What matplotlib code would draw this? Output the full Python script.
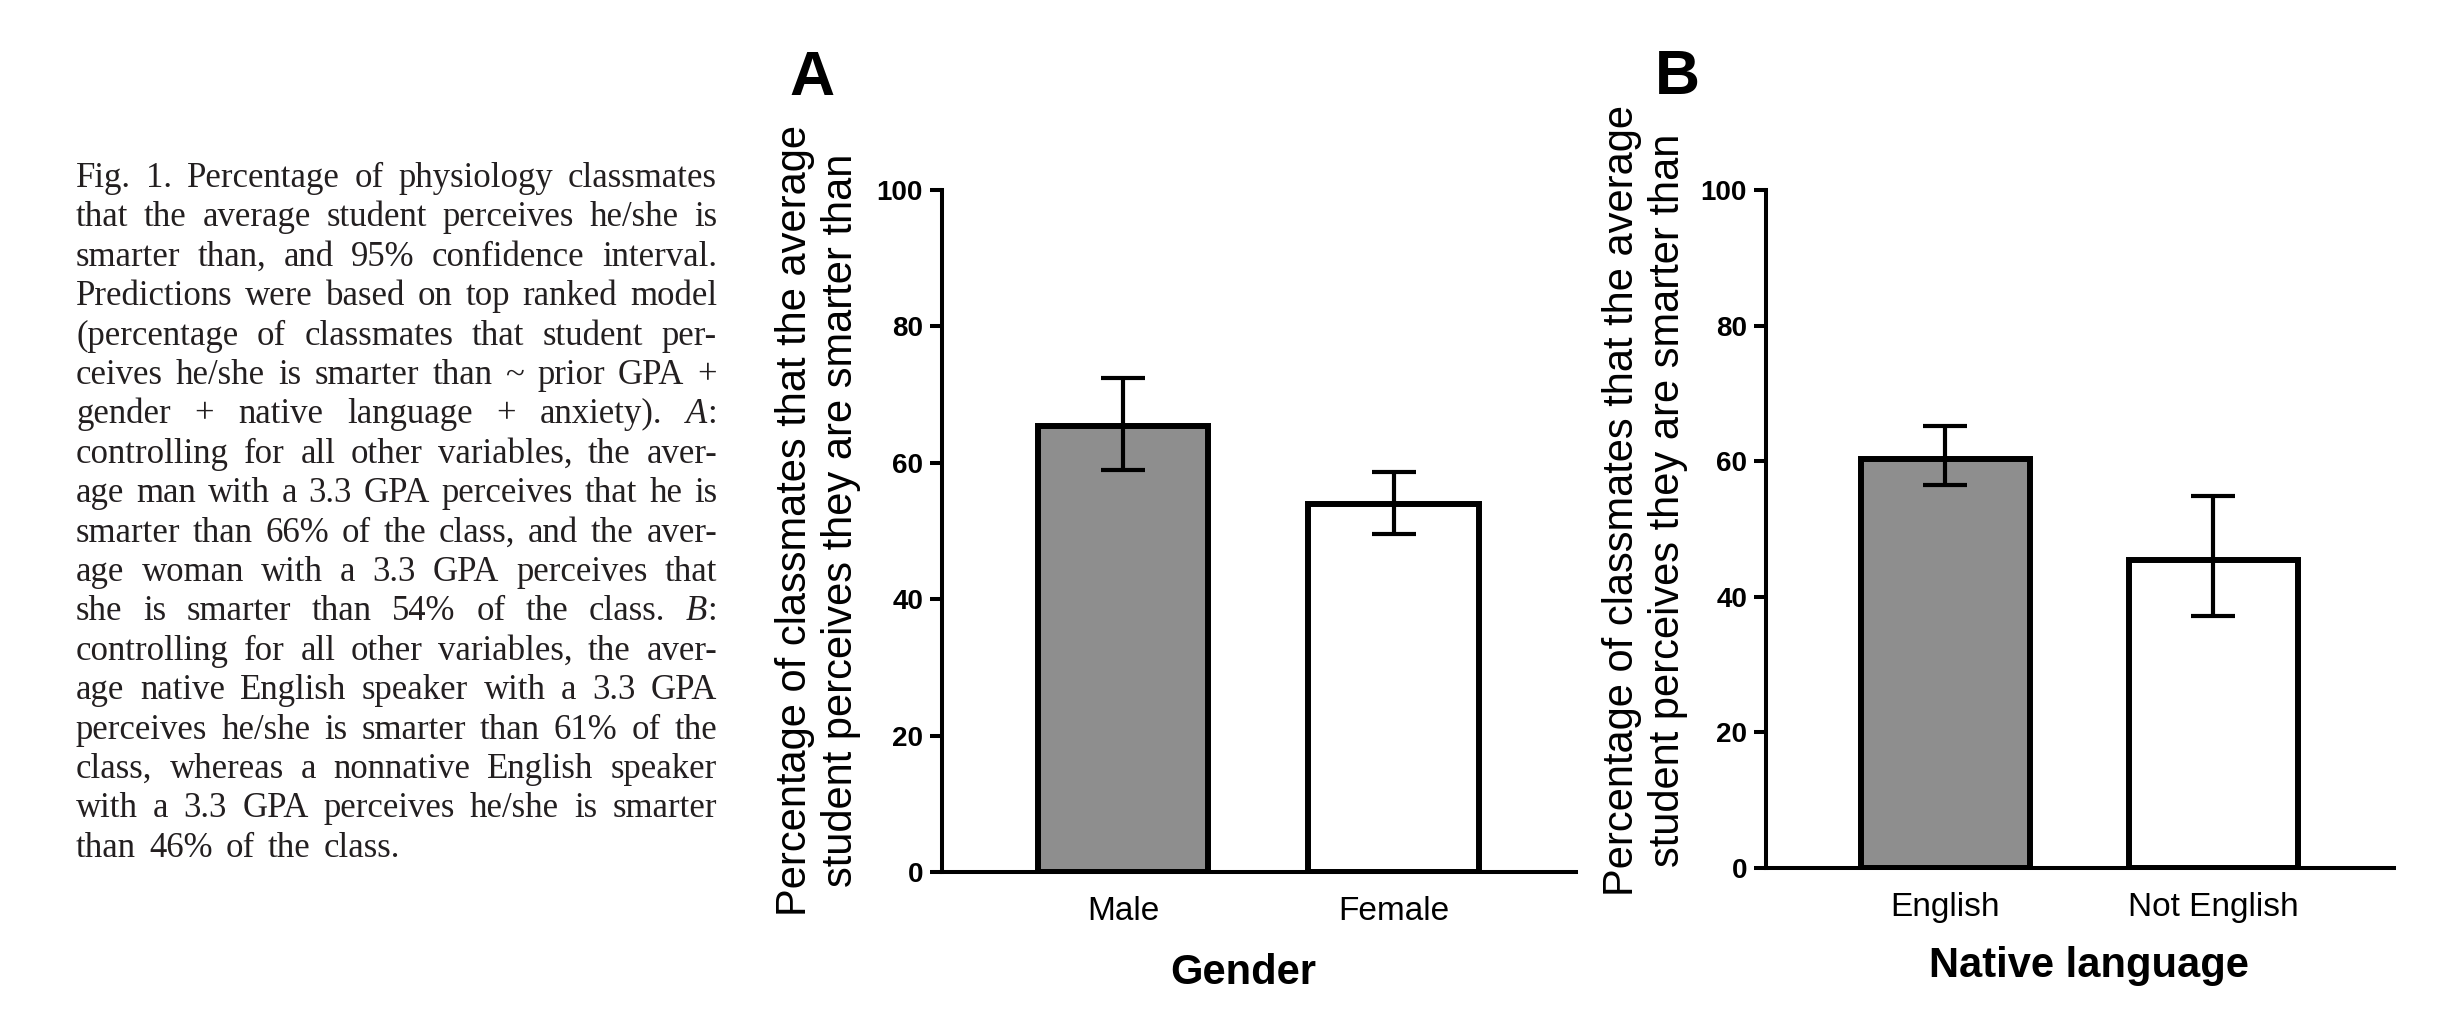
import matplotlib
matplotlib.use("Agg")
import matplotlib.pyplot as plt

# panel A: gender
gender_labels = ["Male", "Female"]
gender_mean = [65.4, 53.9]
gender_lo = [59.0, 49.6]
gender_hi = [72.4, 58.7]

# panel B: native language
lang_labels = ["English", "Not English"]
lang_mean = [60.3, 45.5]
lang_lo = [56.5, 37.1]
lang_hi = [65.2, 54.8]

yticks = [0, 20, 40, 60, 80, 100]
ylabel_text = "Percentage of classmates that the average\nstudent perceives they are smarter than"

caption_lines = [
    "Fig. 1.  Percentage of physiology classmates",
    "that the average student perceives he/she is",
    "smarter than, and 95% confidence interval.",
    "Predictions were based on top ranked model",
    "(percentage of classmates that student per-",
    "ceives he/she is smarter than ~ prior GPA +",
    "gender + native language + anxiety). *A*:",
    "controlling for all other variables, the aver-",
    "age man with a 3.3 GPA perceives that he is",
    "smarter than 66% of the class, and the aver-",
    "age woman with a 3.3 GPA perceives that",
    "she is smarter than 54% of the class. *B*:",
    "controlling for all other variables, the aver-",
    "age native English speaker with a 3.3 GPA",
    "perceives he/she is smarter than 61% of the",
    "class, whereas a nonnative English speaker",
    "with a 3.3 GPA perceives he/she is smarter",
    "than 46% of the class.",
]

W, H = 2446, 1024
sans = "Liberation Sans"
serif = "Liberation Serif"

fig = plt.figure(figsize=(W / 100, H / 100), dpi=100)
fig.patch.set_facecolor("white")


def px(x, y):
    return x / W, 1 - y / H


def draw_panel(rect, labels, mean, lo, hi):
    ax = fig.add_axes(rect)
    xs = list(range(len(labels)))
    ax.bar(xs, mean, width=0.63, color=["#8e8e8e", "white"],
           edgecolor="black", linewidth=4.3, zorder=2)
    err = [[m - l for m, l in zip(mean, lo)], [h - m for m, h in zip(mean, hi)]]
    ax.errorbar(xs, mean, yerr=err, fmt="none", ecolor="black",
                elinewidth=3, capsize=15.5, capthick=3, zorder=3)
    ax.set_xlim(-0.67, 1.675)
    ax.set_ylim(0, 100)
    ax.set_yticks(yticks)
    ax.set_xticks(xs)
    ax.set_xticklabels(labels, fontsize=24, family=sans)
    for t in ax.get_yticklabels():
        t.set_fontfamily(sans)
        t.set_fontweight("bold")
        t.set_fontsize(20)
    for s in ["top", "right"]:
        ax.spines[s].set_visible(False)
    for s in ["left", "bottom"]:
        ax.spines[s].set_linewidth(2.9)
        ax.spines[s].set_zorder(4)
    ax.tick_params(axis="y", length=8.6, width=2.9, pad=5)
    ax.tick_params(axis="x", length=0, pad=17)
    ax.patch.set_alpha(0)
    return ax


axA = draw_panel([942 / W, 1 - 872 / H, (1576 - 942) / W, (872 - 190) / H],
                 gender_labels, gender_mean, gender_lo, gender_hi)
axB = draw_panel([1766 / W, 1 - 868 / H, (2394 - 1766) / W, (868 - 190) / H],
                 lang_labels, lang_mean, lang_lo, lang_hi)

# axis titles
fig.text(*px(1243, 984), "Gender", fontsize=30, fontweight="bold",
         family=sans, ha="center", va="baseline")
fig.text(*px(2089, 977), "Native language", fontsize=30, fontweight="bold",
         family=sans, ha="center", va="baseline")
fig.text(*px(818, 520), ylabel_text, fontsize=30, family=sans, rotation=90,
         ha="center", va="center", multialignment="center", linespacing=1.22)
fig.text(*px(1645, 500), ylabel_text, fontsize=30, family=sans, rotation=90,
         ha="center", va="center", multialignment="center", linespacing=1.22)

# panel letters
fig.text(*px(789, 95), "A", fontsize=45, fontweight="bold", family=sans,
         ha="left", va="baseline")
fig.text(*px(1655, 94), "B", fontsize=45, fontweight="bold", family=sans,
         ha="left", va="baseline")

# justified caption on the left
renderer = fig.canvas.get_renderer()
cap_left, cap_right = 76, 717
base0, step = 187, 39.4
cap_color = "#231f20"


def word_parts(word):
    if word.startswith("*"):
        inner, rest = word[1:].split("*", 1)
        parts = [(inner, "italic")]
        if rest:
            parts.append((rest, "normal"))
        return parts
    return [(word, "normal")]


for i, line in enumerate(caption_lines):
    y = base0 + i * step
    words = line.split()
    items = []
    total = 0
    for w in words:
        texts = []
        ww = 0
        for s, style in word_parts(w):
            t = fig.text(0, 0, s, fontsize=25, family=serif, style=style,
                         color=cap_color, ha="left", va="baseline")
            wd = t.get_window_extent(renderer).width
            texts.append((t, wd))
            ww += wd
        items.append((texts, ww))
        total += ww
    if i < len(caption_lines) - 1 and len(items) > 1:
        gap = (cap_right - cap_left - total) / (len(items) - 1)
    else:
        gap = 13
    x = cap_left
    for texts, ww in items:
        for t, wd in texts:
            t.set_position(px(x, y))
            x += wd
        x += gap

fig.savefig("out.png", dpi=100, facecolor="white")
